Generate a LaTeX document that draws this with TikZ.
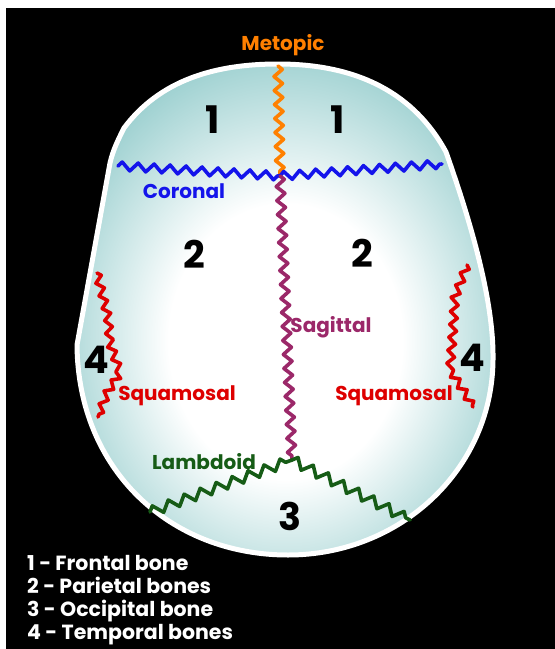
\documentclass[tikz,border=0pt]{standalone}
\usepackage{fontspec}
\setmainfont{Poppins}
\usetikzlibrary{decorations.pathmorphing}

\definecolor{skullteal}{RGB}{66,150,150}
\definecolor{skullmid}{RGB}{150,205,205}
\definecolor{metopicc}{RGB}{255,128,0}
\definecolor{coronalc}{RGB}{20,20,235}
\definecolor{sagittalc}{RGB}{155,40,105}
\definecolor{lambdoidc}{RGB}{22,92,22}
\definecolor{squamosalc}{RGB}{222,0,0}

\pgfdeclareradialshading{skullshade}{\pgfpoint{0bp}{-4bp}}{%
  color(0bp)=(white); color(14bp)=(white); color(30bp)=(skullmid);
  color(45bp)=(skullteal); color(75bp)=(skullteal)}

\tikzset{
  suture/.style={line width=3.6pt, line join=round, line cap=round,
    decorate, decoration={zigzag, segment length=#1, amplitude=4.2pt}},
  suture/.default=15pt,
  sutlabel/.style={font=\bfseries\fontsize{20}{22}\selectfont, inner sep=0pt},
  bonenum/.style={font=\bfseries\fontsize{38}{40}\selectfont, inner sep=0pt},
  legend/.style={text=white, anchor=base west, inner sep=0pt,
    font=\bfseries\fontsize{20.5}{22}\selectfont},
}

\begin{document}
\begin{tikzpicture}[x=1pt, y=-1pt]
  % page and dark panel
  \fill[white] (0,0) rectangle (555,649);
  \fill[black] (6,8) rectangle (555,649);
  \useasboundingbox (0,0) rectangle (555,649);

  % skull outline (top view)
  \def\skullpath{(278,64) .. controls (360,64) and (415,95) .. (446,152)
    .. controls (470,220) and (494,300) .. (493,360)
    .. controls (492,470) and (400,555) .. (288,555)
    .. controls (170,555) and (78,470) .. (77,345)
    -- (110,163) .. controls (113,150) and (118,140) .. (124,128)
    .. controls (160,80) and (215,64) .. (278,64) -- cycle}
  \shade[shading=skullshade] \skullpath;
  \draw[white, line width=5pt, line join=round] \skullpath;

  % suture junctions
  \coordinate (vertex) at (278,66);
  \coordinate (bregma) at (280,176);
  \coordinate (lambda) at (292,460);
  \coordinate (corL) at (118,166);
  \coordinate (corR) at (442,164);
  \coordinate (lamL) at (150,512);
  \coordinate (lamR) at (410,520);

  % sutures
  \draw[metopicc, suture=14pt] (vertex) -- (bregma);
  \draw[coronalc, suture=16pt] (corL) -- (bregma);
  \draw[coronalc, suture=16pt] (bregma) -- (corR);
  \draw[sagittalc, suture=14pt] (bregma) -- (lambda);
  \draw[lambdoidc, suture=17pt, decoration={amplitude=5pt}] (lamL) -- (lambda);
  \draw[lambdoidc, suture=17pt, decoration={amplitude=5pt}] (lambda) -- (lamR);
  \draw[squamosalc, suture=13pt, decoration={amplitude=3.6pt}]
    (97,273) -- (108,317) -- (110,343) -- (120,373) -- (107,393) -- (98,417);
  \draw[squamosalc, suture=13pt, decoration={amplitude=3.6pt}]
    (467,265) -- (455,297) -- (453,330) -- (450,370) -- (463,390) -- (473,407);

  % suture names
  \node[sutlabel, text=metopicc] (lmet) at (283,45) {Metopic};
  \node[sutlabel, text=coronalc] (lcor) at (184,191) {Coronal};
  \node[sutlabel, text=sagittalc] (lsag) at (331,327) {Sagittal};
  \node[sutlabel, text=squamosalc] (lsqL) at (177,396) {Squamosal};
  \node[sutlabel, text=squamosalc] (lsqR) at (394,396) {Squamosal};
  \node[sutlabel, text=lambdoidc] (llam) at (204,462) {Lambdoid};

  % bone numbers
  \node[bonenum] (f1) at (213,120) {1};
  \node[bonenum] (f2) at (338,120) {1};
  \node[bonenum] (p1) at (194,254) {2};
  \node[bonenum] (p2) at (362,253) {2};
  \node[bonenum] (t1) at (96,360) {4};
  \node[bonenum] (t2) at (472,358) {4};
  \node[bonenum] (o1) at (290,516) {3};

  % key
  \node[legend] (k1) at (27,570) {1 - Frontal bone};
  \node[legend] (k2) at (27,593) {2 - Parietal bones};
  \node[legend] (k3) at (27,616.5) {3 - Occipital bone};
  \node[legend] (k4) at (27,639.5) {4 - Temporal bones};
\end{tikzpicture}
\end{document}
